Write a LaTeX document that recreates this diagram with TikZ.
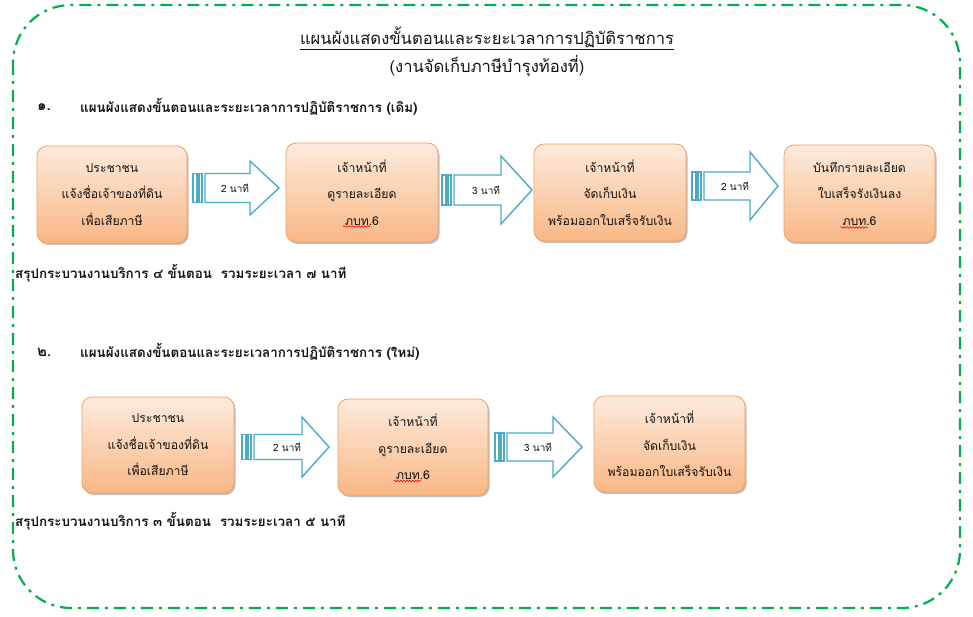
\documentclass[tikz,border=0pt]{standalone}
\usepackage{fontspec}
\setmainfont[Script=Thai]{Loma}
\usetikzlibrary{shadows,decorations.pathmorphing}
\definecolor{framegreen}{HTML}{00B050}
\definecolor{arrblue}{HTML}{4BACC6}
\definecolor{boxtop}{HTML}{FDEBDD}
\definecolor{boxbot}{HTML}{F9B785}
\definecolor{boxline}{HTML}{F6A061}
\definecolor{txt}{HTML}{141414}
\tikzset{
 stepbox/.style={draw=boxline, line width=0.8pt, rounded corners=10pt, top color=boxtop, bottom color=boxbot,
   align=center, inner sep=0pt, font=\fontsize{12.2}{26.5}\selectfont, text=txt,
   drop shadow={shadow xshift=1.5pt, shadow yshift=-2pt, opacity=0.25, fill=black}},
 arrline/.style={draw=arrblue, line width=1.4pt, fill=white, line join=miter},
 arrlabel/.style={font=\fontsize{10}{12}\selectfont, inner sep=0pt, text=txt},
 heading/.style={font=\bfseries\fontsize{13.4}{16}\selectfont, anchor=west, inner sep=0pt, text=txt},
 numtext/.style={font=\bfseries\fontsize{15}{16}\selectfont, anchor=west, inner sep=0pt, text=txt},
 titletext/.style={font=\fontsize{16.6}{19}\selectfont, inner sep=0pt, text=txt},
 squig/.style={draw=red, line width=0.6pt, decorate, decoration={snake, amplitude=0.8pt, segment length=3pt}},
}
\newcommand\StripeArrow[8]{% name, x0, cy, body half, head half, head x, tip x, label
  \draw[arrline] (#2,#3-#4) rectangle (#2+4,#3+#4);
  \draw[arrline] (#2+6,#3-#4) rectangle (#2+9,#3+#4);
  \draw[arrline] (#2+12,#3-#4) -- (#6,#3-#4) -- (#6,#3-#5) -- (#7,#3) -- (#6,#3+#5) -- (#6,#3+#4) -- (#2+12,#3+#4) -- cycle;
  \node[arrlabel] (#1) at (#6-15,#3) {#8};
}
\newcommand\StepBox[6]{% name, x1, y1, x2, y2, text
  \node[stepbox, minimum width={#4-#2}, minimum height={#5-#3}] (#1) at ({(#2+#4)/2},{(#3+#5)/2}) {#6};
}
\newcommand\Squig[1]{\draw[squig] ([shift={(-19,34)}]#1.center) -- ([shift={(8,34)}]#1.center);}
\begin{document}
\begin{tikzpicture}[x=1pt,y=-1pt]
\useasboundingbox (0,0) rectangle (973,617);
% frame
\draw[draw=framegreen, line width=2.2pt, rounded corners=58pt, dash pattern=on 12pt off 6pt on 3pt off 6pt] (13,5) rectangle (960,608);
% titles
\node[titletext] (title) at (487,38) {\underline{แผนผังแสดงขั้นตอนและระยะเวลาการปฏิบัติราชการ}};
\node[titletext] (subtitle) at (487,66) {(งานจัดเก็บภาษีบำรุงท้องที่)};
% section 1
\node[numtext] (n1) at (37,107) {๑.};
\node[heading] (h1) at (80,107) {แผนผังแสดงขั้นตอนและระยะเวลาการปฏิบัติราชการ (เดิม)};
\StepBox{b1}{37}{146}{187}{243}{ประชาชน\\แจ้งชื่อเจ้าของที่ดิน\\เพื่อเสียภาษี}
\StepBox{b2}{286}{143}{438}{242}{เจ้าหน้าที่\\ดูรายละเอียด\\ภบท.6}
\StepBox{b3}{534}{144}{686}{241}{เจ้าหน้าที่\\จัดเก็บเงิน\\พร้อมออกใบเสร็จรับเงิน}
\StepBox{b4}{784}{145}{935}{242}{บันทึกรายละเอียด\\ใบเสร็จรังเงินลง\\ภบท.6}
\Squig{b2}
\Squig{b4}
\StripeArrow{a1}{193}{188}{14.5}{27}{250}{279}{2 นาที}
\StripeArrow{a2}{442}{190}{15}{34}{501}{532}{3 นาที}
\StripeArrow{a3}{692}{186}{14}{34}{750}{778}{2 นาที}
\node[heading] (s1) at (15,273) {สรุปกระบวนงานบริการ ๔ ขั้นตอน\ \ รวมระยะเวลา ๗ นาที};
% section 2
\node[numtext] (n2) at (37,352) {๒.};
\node[heading] (h2) at (80,352) {แผนผังแสดงขั้นตอนและระยะเวลาการปฏิบัติราชการ (ใหม่)};
\StepBox{c1}{82}{397}{234}{493}{ประชาชน\\แจ้งชื่อเจ้าของที่ดิน\\เพื่อเสียภาษี}
\StepBox{c2}{338}{399}{488}{495}{เจ้าหน้าที่\\ดูรายละเอียด\\ภบท.6}
\StepBox{c3}{594}{396}{745}{492}{เจ้าหน้าที่\\จัดเก็บเงิน\\พร้อมออกใบเสร็จรับเงิน}
\Squig{c2}
\StripeArrow{d1}{242}{447}{12.5}{30}{302}{329}{2 นาที}
\StripeArrow{d2}{495}{447}{14}{30}{553}{582}{3 นาที}
\node[heading] (s2) at (15,521) {สรุปกระบวนงานบริการ ๓ ขั้นตอน\ \ รวมระยะเวลา ๕ นาที};
\end{tikzpicture}
\end{document}
